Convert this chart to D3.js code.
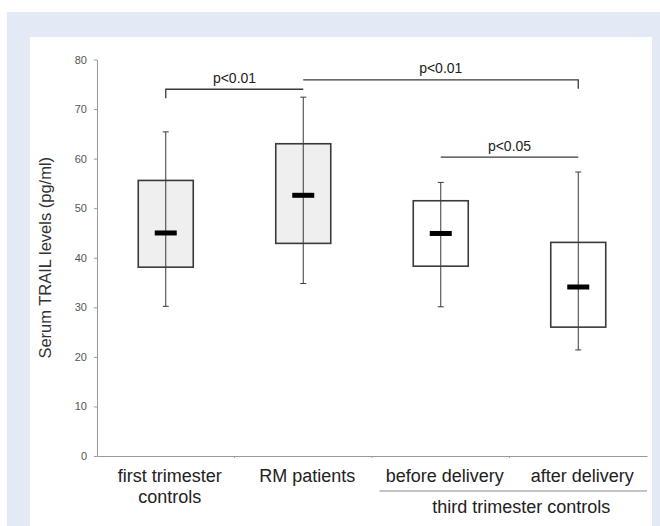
<!DOCTYPE html>
<html>
<head>
<meta charset="utf-8">
<script src="https://cdn.jsdelivr.net/npm/d3@7"></script>
<style>
  body { margin: 0; background: #fff; }
  svg { display: block; font-family: "Liberation Sans", Arial, sans-serif; }
</style>
</head>
<body>
<div id="chart"></div>
<script>
// Groups shown on the x axis (one box each)
var categories = ["first trimester controls", "RM patients", "before delivery", "after delivery"];
var categoryLines = [["first trimester", "controls"], ["RM patients"], ["before delivery"], ["after delivery"]];
var groupLabel = "third trimester controls";   // spans the last two groups
var groupMembers = ["before delivery", "after delivery"];

// Box values in pg/ml
var whiskerLow  = [30.2, 34.8, 30.1, 21.4];
var boxLow      = [38.1, 42.9, 38.3, 26.0];
var medians     = [45.0, 52.6, 44.9, 34.1];
var boxHigh     = [55.6, 63.0, 51.5, 43.1];
var whiskerHigh = [65.4, 72.4, 55.2, 57.3];
var shaded      = [true, true, false, false];

var yTicks = [0, 10, 20, 30, 40, 50, 60, 70, 80];
var yLabel = "Serum TRAIL levels (pg/ml)";

// Significance brackets: level and leg ends are in pg/ml
var bracketFrom  = [0, 1, 2];
var bracketTo    = [1, 3, 3];
var bracketLevel = [74.0, 75.9, 60.3];
var bracketLeftEnd  = [72.2, 75.9, 60.3];
var bracketRightEnd = [74.0, 74.1, 60.3];
var bracketText  = ["p<0.01", "p<0.01", "p<0.05"];

var width = 660, height = 526;

var svg = d3.select("#chart")
    .append("svg")
    .attr("width", width)
    .attr("height", height);

// blue frame and white panel
svg.append("rect").attr("x", 7).attr("y", 12).attr("width", width - 7).attr("height", height - 12).attr("fill", "#e3eaf6");
svg.append("rect").attr("x", 30).attr("y", 37).attr("width", 622).attr("height", height - 37).attr("fill", "#fff");

var x = d3.scaleBand().domain(categories).range([97, 647]).padding(0);
var y = d3.scaleLinear().domain([0, 80]).range([456, 59.5]);

var boxW = x.bandwidth() * 0.4;
var cx = function (i) { return x(categories[i]) + x.bandwidth() / 2; };

// y axis
var yAxis = svg.append("g")
    .attr("transform", "translate(97,0)")
    .call(d3.axisLeft(y).tickValues(yTicks).tickSize(3).tickSizeOuter(0).tickPadding(7));
yAxis.select(".domain").attr("stroke", "#9a9a9a");
yAxis.selectAll(".tick line").attr("stroke", "#9a9a9a");
yAxis.selectAll(".tick text").attr("fill", "#555").style("font-size", "11px").style("font-family", "Liberation Sans, Arial, sans-serif");

svg.append("text")
    .attr("transform", "translate(51," + ((y(0) + y(80)) / 2) + ") rotate(-90)")
    .attr("text-anchor", "middle")
    .attr("fill", "#333")
    .style("font-size", "16.5px")
    .text(yLabel);

// x axis: only the line and the band boundaries
var xAxis = svg.append("g")
    .attr("transform", "translate(0," + y(0) + ")")
    .call(d3.axisBottom(x).tickSize(0).tickFormat(""));
xAxis.select(".domain").attr("stroke", "#9a9a9a");
xAxis.selectAll(".tick").remove();
svg.selectAll(".xbound")
    .data(categories.slice(1))
    .enter()
    .append("line")
    .attr("class", "xbound")
    .attr("x1", d => x(d)).attr("x2", d => x(d))
    .attr("y1", y(0)).attr("y2", y(0) + 2)
    .attr("stroke", "#9a9a9a");

// category labels
var labels = svg.selectAll(".catlabel")
    .data(categoryLines)
    .enter()
    .append("text")
    .attr("class", "catlabel")
    .attr("text-anchor", "middle")
    .attr("fill", "#222")
    .style("font-size", "18px")
    .attr("transform", (d, i) => "translate(" + (cx(i) + 4) + ",482)");
labels.selectAll("tspan")
    .data(d => d)
    .enter()
    .append("tspan")
    .attr("x", 0)
    .attr("dy", (d, i) => i === 0 ? 0 : 21)
    .text(d => d);

// group line + label under the last two groups
var gx1 = x(groupMembers[0]) + 7.5;
var gx2 = x(groupMembers[1]) + x.bandwidth();
svg.append("line")
    .attr("x1", gx1).attr("x2", gx2)
    .attr("y1", 491).attr("y2", 491)
    .attr("stroke", "#8a8a8a").attr("stroke-width", 1.2);
svg.append("text")
    .attr("x", (gx1 + gx2) / 2 + 8)
    .attr("y", 513)
    .attr("text-anchor", "middle")
    .attr("fill", "#222")
    .style("font-size", "18px")
    .text(groupLabel);

// boxes
var boxes = svg.selectAll(".box")
    .data(categories)
    .enter()
    .append("g")
    .attr("class", "box");

boxes.append("rect")
    .attr("x", (d, i) => cx(i) - boxW / 2)
    .attr("y", (d, i) => y(boxHigh[i]))
    .attr("width", boxW)
    .attr("height", (d, i) => y(boxLow[i]) - y(boxHigh[i]))
    .attr("fill", (d, i) => shaded[i] ? "#efefef" : "#fff")
    .attr("stroke", "#3a3a3a")
    .attr("stroke-width", 1.6);

// whisker through the box
boxes.append("line")
    .attr("x1", (d, i) => cx(i)).attr("x2", (d, i) => cx(i))
    .attr("y1", (d, i) => y(whiskerHigh[i]))
    .attr("y2", (d, i) => y(whiskerLow[i]))
    .attr("stroke", "#3a3a3a").attr("stroke-width", 1);

// whisker caps
boxes.append("line")
    .attr("x1", (d, i) => cx(i) - 3).attr("x2", (d, i) => cx(i) + 3)
    .attr("y1", (d, i) => y(whiskerHigh[i])).attr("y2", (d, i) => y(whiskerHigh[i]))
    .attr("stroke", "#3a3a3a").attr("stroke-width", 1);
boxes.append("line")
    .attr("x1", (d, i) => cx(i) - 3).attr("x2", (d, i) => cx(i) + 3)
    .attr("y1", (d, i) => y(whiskerLow[i])).attr("y2", (d, i) => y(whiskerLow[i]))
    .attr("stroke", "#3a3a3a").attr("stroke-width", 1);

// median bar
boxes.append("rect")
    .attr("x", (d, i) => cx(i) - 11)
    .attr("y", (d, i) => y(medians[i]) - 2.5)
    .attr("width", 22)
    .attr("height", 5)
    .attr("fill", "#000");

// significance brackets
var brackets = svg.selectAll(".bracket")
    .data(bracketText)
    .enter()
    .append("g")
    .attr("class", "bracket");

brackets.append("path")
    .attr("d", function (d, i) {
        var a = cx(bracketFrom[i]), b = cx(bracketTo[i]);
        return "M" + a + "," + y(bracketLeftEnd[i]) +
            "V" + y(bracketLevel[i]) +
            "H" + b +
            "V" + y(bracketRightEnd[i]);
    })
    .attr("fill", "none")
    .attr("stroke", "#3a3a3a")
    .attr("stroke-width", 1.3);

brackets.append("text")
    .attr("x", (d, i) => (cx(bracketFrom[i]) + cx(bracketTo[i])) / 2)
    .attr("y", (d, i) => y(bracketLevel[i]) - 6.5)
    .attr("text-anchor", "middle")
    .attr("fill", "#222")
    .style("font-size", "14px")
    .text(d => d);
</script>
</body>
</html>
